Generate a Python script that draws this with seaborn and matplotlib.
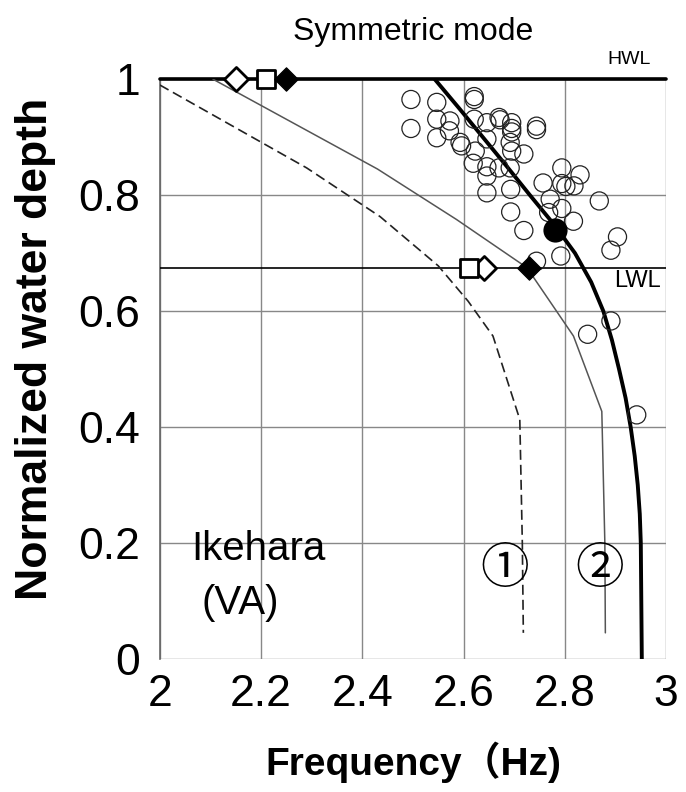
import numpy as np
import pandas as pd
import seaborn as sns
import matplotlib.pyplot as plt

# Measured points (frequency in Hz, normalized water depth)
obs_freq = [2.496, 2.496, 2.547, 2.547, 2.547, 2.573, 2.572, 2.593, 2.596, 2.621,
            2.621, 2.621, 2.623, 2.619, 2.646, 2.646, 2.646, 2.646, 2.646, 2.670,
            2.672, 2.670, 2.695, 2.695, 2.695, 2.692, 2.695, 2.692, 2.693, 2.693,
            2.719, 2.719, 2.744, 2.744, 2.757, 2.771, 2.768, 2.794, 2.830, 2.794,
            2.802, 2.818, 2.794, 2.817, 2.868, 2.904, 2.891, 2.792, 2.744, 2.891,
            2.845, 2.942]
obs_depth = [0.965, 0.915, 0.960, 0.931, 0.899, 0.928, 0.911, 0.891, 0.885, 0.970,
             0.965, 0.931, 0.876, 0.855, 0.925, 0.897, 0.849, 0.833, 0.804, 0.934,
             0.930, 0.847, 0.925, 0.915, 0.909, 0.891, 0.876, 0.847, 0.810, 0.771,
             0.871, 0.739, 0.919, 0.913, 0.821, 0.793, 0.770, 0.847, 0.835, 0.820,
             0.815, 0.816, 0.777, 0.755, 0.790, 0.728, 0.705, 0.695, 0.686, 0.583,
             0.560, 0.421]

# Thick curve (fitted)
fit_freq = [2.543, 2.591, 2.638, 2.685, 2.731, 2.778, 2.820, 2.852, 2.876, 2.893,
            2.907, 2.920, 2.930, 2.938, 2.944, 2.948, 2.950, 2.951, 2.952]
fit_depth = [1.0, 0.95, 0.9, 0.85, 0.8, 0.75, 0.7, 0.65, 0.6, 0.55,
             0.5, 0.45, 0.4, 0.35, 0.3, 0.25, 0.2, 0.1, 0.0]

# Model 1 (dashed)
m1_freq = [2.0, 2.29, 2.435, 2.55, 2.609, 2.658, 2.711, 2.716, 2.718]
m1_depth = [0.99, 0.847, 0.763, 0.678, 0.617, 0.557, 0.413, 0.2, 0.045]

# Model 2 (thin solid)
m2_freq = [2.105, 2.43, 2.586, 2.725, 2.817, 2.873, 2.879, 2.88]
m2_depth = [1.0, 0.845, 0.758, 0.675, 0.557, 0.427, 0.2, 0.045]

hwl = 1.0
lwl = 0.675
hwl_open_diamond, hwl_open_square, hwl_filled_diamond = 2.15, 2.21, 2.25
lwl_open_square, lwl_open_diamond, lwl_filled_diamond = 2.61, 2.64, 2.73
filled_circle = (2.78, 0.74)

xticks = [2, 2.2, 2.4, 2.6, 2.8, 3]
xticklabels = ["2", "2.2", "2.4", "2.6", "2.8", "3"]
yticks = [0, 0.2, 0.4, 0.6, 0.8, 1]
yticklabels = ["0", "0.2", "0.4", "0.6", "0.8", "1"]

sns.set_style("whitegrid")
plt.rcParams["font.family"] = ["Liberation Sans", "Noto Sans CJK JP", "DejaVu Sans"]
plt.rcParams["text.color"] = "black"
plt.rcParams["axes.labelcolor"] = "black"

fig, ax = plt.subplots(figsize=(6.86, 7.92), dpi=100)
fig.subplots_adjust(left=0.233, right=0.971, bottom=0.168, top=0.900)

obs = pd.DataFrame({"f": obs_freq, "d": obs_depth})
fit = pd.DataFrame({"f": fit_freq, "d": fit_depth})
m1 = pd.DataFrame({"f": m1_freq, "d": m1_depth})
m2 = pd.DataFrame({"f": m2_freq, "d": m2_depth})

ax.axhline(hwl, color="black", lw=2.6, zorder=3, clip_on=False)
ax.axhline(lwl, color="black", lw=1.2, zorder=3)

sns.lineplot(data=m1, x="f", y="d", sort=False, ax=ax, color="#222222", lw=1.2,
             linestyle=(0, (6, 3)), zorder=3)
sns.lineplot(data=m2, x="f", y="d", sort=False, ax=ax, color="#555555", lw=1.1, zorder=3)
sns.lineplot(data=fit, x="f", y="d", sort=False, ax=ax, color="black", lw=2.8, zorder=4)

sns.scatterplot(data=obs, x="f", y="d", ax=ax, s=170, facecolor="none",
                edgecolor="#222222", linewidth=0.9, zorder=5)
sns.scatterplot(x=[filled_circle[0]], y=[filled_circle[1]], ax=ax, s=260,
                color="black", edgecolor="black", zorder=6)

sns.scatterplot(x=[hwl_open_diamond, lwl_open_diamond], y=[hwl, lwl], ax=ax, marker="D",
                s=150, facecolor="white", edgecolor="black", linewidth=2, zorder=7, clip_on=False)
sns.scatterplot(x=[hwl_open_square, lwl_open_square], y=[hwl, lwl], ax=ax, marker="s",
                s=170, facecolor="white", edgecolor="black", linewidth=2, zorder=7, clip_on=False)
sns.scatterplot(x=[hwl_filled_diamond, lwl_filled_diamond], y=[hwl, lwl], ax=ax, marker="D",
                s=140, color="black", edgecolor="black", zorder=7, clip_on=False)

ax.set_xlim(2, 3)
ax.set_ylim(0, 1)
ax.set_xticks(xticks)
ax.set_xticklabels(xticklabels, fontsize=32)
ax.set_yticks(yticks)
ax.set_yticklabels(yticklabels, fontsize=32)
ax.tick_params(axis="both", length=9, color="#888888", width=1, labelcolor="black")
ax.tick_params(axis="x", pad=2)
ax.tick_params(axis="y", pad=5)
ax.grid(True, color="#888888", lw=1)
for side in ["top", "right", "bottom"]:
    ax.spines[side].set_visible(False)
ax.spines["left"].set_color("#666666")
ax.spines["left"].set_linewidth(1.2)

ax.set_xlabel("Frequency（Hz)", fontsize=28, fontweight="bold")
ax.xaxis.set_label_coords(0.5, -0.143)
ax.set_ylabel("Normalized water depth", fontsize=32, fontweight="bold")
ax.yaxis.set_label_coords(-0.205, 0.534)
ax.set_title("Symmetric mode", fontsize=23, pad=28, color="black")

ax.text(2.97, 1.02, "HWL", fontsize=14, ha="right", va="bottom")
ax.text(2.99, 0.652, "LWL", fontsize=17, ha="right", va="center")
ax.text(2.062, 0.19, "Ikehara", fontsize=29, ha="left", va="center")
ax.text(2.082, 0.097, "(VA)", fontsize=29, ha="left", va="center")
ax.text(2.682, 0.155, "①", fontsize=35, ha="center", va="center",
        family=["Noto Sans CJK JP", "DejaVu Sans"])
ax.text(2.868, 0.155, "②", fontsize=35, ha="center", va="center",
        family=["Noto Sans CJK JP", "DejaVu Sans"])

plt.savefig("out.png", dpi=100)
